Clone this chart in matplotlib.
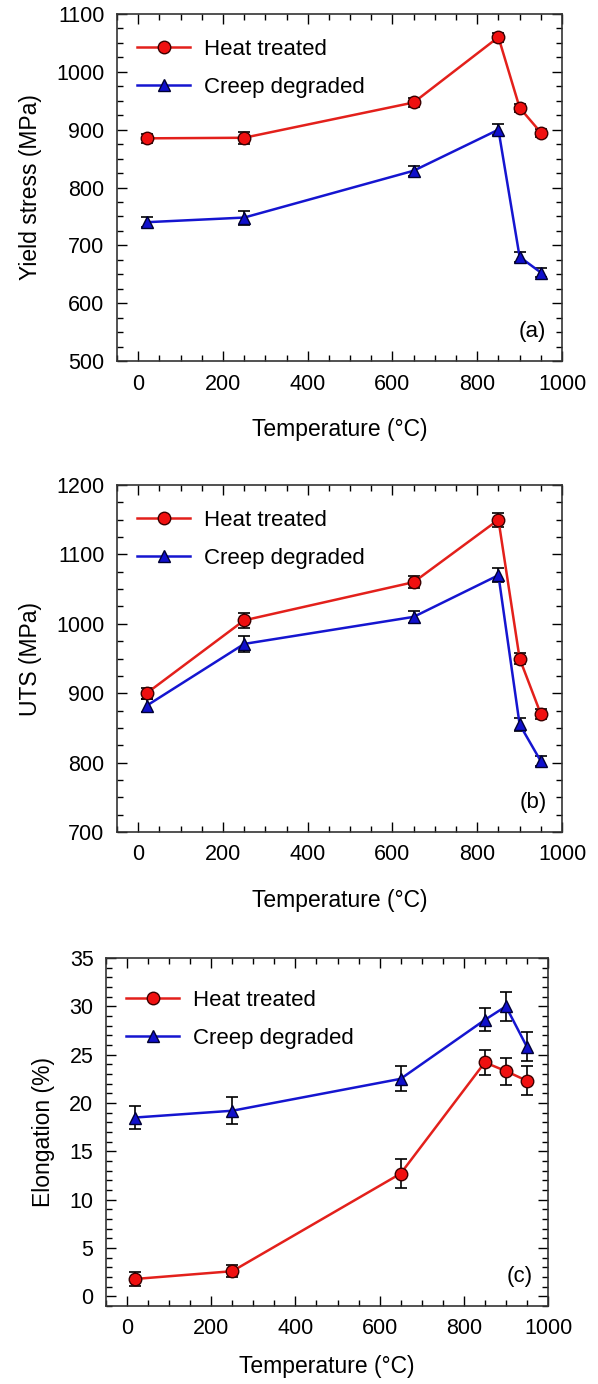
import matplotlib.pyplot as plt
from matplotlib.ticker import MultipleLocator

plt.rcParams['font.family'] = ['Liberation Sans', 'DejaVu Sans']

temperature = [20, 250, 650, 850, 900, 950]

# yield stress (MPa)
ys_heat = [885, 886, 947, 1060, 938, 895]
ys_heat_err = [8, 10, 8, 8, 7, 7]
ys_creep = [740, 748, 829, 900, 680, 653]
ys_creep_err = [9, 12, 9, 10, 8, 7]

# ultimate tensile strength (MPa)
uts_heat = [900, 1005, 1060, 1150, 950, 870]
uts_heat_err = [8, 11, 9, 10, 8, 7]
uts_creep = [882, 971, 1010, 1070, 855, 802]
uts_creep_err = [9, 11, 9, 10, 9, 7]

# elongation (%)
el_heat = [1.8, 2.6, 12.7, 24.2, 23.3, 22.3]
el_heat_err = [0.7, 0.6, 1.5, 1.3, 1.4, 1.5]
el_creep = [18.5, 19.2, 22.5, 28.6, 30.0, 25.8]
el_creep_err = [1.2, 1.4, 1.3, 1.2, 1.5, 1.5]

panels = [
    ("Yield stress (MPa)", ys_heat, ys_heat_err, ys_creep, ys_creep_err,
     (500, 1100), 100, 25, "(a)"),
    ("UTS (MPa)", uts_heat, uts_heat_err, uts_creep, uts_creep_err,
     (700, 1200), 100, 25, "(b)"),
    ("Elongation (%)", el_heat, el_heat_err, el_creep, el_creep_err,
     (-1, 35), 5, 1, "(c)"),
]

W, H = 598, 1384
fig = plt.figure(figsize=(W / 100, H / 100), dpi=100)

# axes boxes in pixels: left, top, right, bottom
boxes = [(117, 14, 562, 361), (117, 485, 562, 832), (106, 958, 548, 1306)]
xlabel_pads = [17, 17, 11]
legend_tops = [0.985, 0.985, 0.965]

red_line = '#e3201b'
red_face = '#f01010'
blue_line = '#1515d0'
blue_face = '#1010cc'

for i, (ylabel, h, he, c, ce, ylim, major, minor, tag) in enumerate(panels):
    l, t, r, b = boxes[i]
    ax = fig.add_axes([l / W, 1 - b / H, (r - l) / W, (b - t) / H])

    ax.errorbar(temperature, h, yerr=he, fmt='none', ecolor='black',
                elinewidth=1.2, capsize=4.5, capthick=1.2, zorder=2)
    ax.errorbar(temperature, c, yerr=ce, fmt='none', ecolor='black',
                elinewidth=1.2, capsize=4.5, capthick=1.2, zorder=2)
    ax.plot(temperature, h, '-o', color=red_line, lw=1.8, ms=9,
            mfc=red_face, mec='#3a0000', mew=1.0, label='Heat treated', zorder=3)
    ax.plot(temperature, c, '-^', color=blue_line, lw=1.8, ms=8.5,
            mfc=blue_face, mec='#000033', mew=1.0, label='Creep degraded', zorder=3)

    ax.set_xlim(-50, 1000)
    ax.xaxis.set_major_locator(MultipleLocator(200))
    ax.xaxis.set_minor_locator(MultipleLocator(50))
    ax.yaxis.set_major_locator(MultipleLocator(major))
    ax.yaxis.set_minor_locator(MultipleLocator(minor))
    ax.set_ylim(*ylim)

    ax.tick_params(which='both', direction='in', top=True, right=True,
                   labelsize=15.5, pad=9, width=1.0)
    ax.tick_params(which='major', length=7)
    ax.tick_params(which='minor', length=4)
    for s in ax.spines.values():
        s.set_linewidth(1.2)
        s.set_color('#333333')

    ax.set_xlabel("Temperature (°C)", fontsize=16.5, labelpad=xlabel_pads[i])
    ax.set_ylabel(ylabel, fontsize=16.5, labelpad=10)
    ax.text(0.965, 0.055, tag, transform=ax.transAxes, ha='right', va='bottom',
            fontsize=16)
    ax.legend(loc='upper left', bbox_to_anchor=(0.0, legend_tops[i]), frameon=False,
              fontsize=16, handlelength=2.4, handletextpad=0.6,
              labelspacing=0.75, borderaxespad=0.5)

fig.savefig('out.png', dpi=100)
